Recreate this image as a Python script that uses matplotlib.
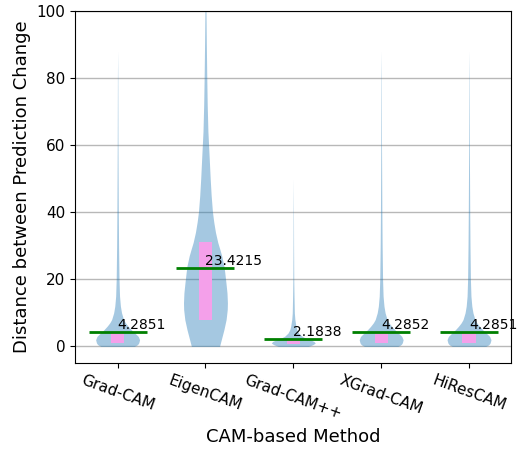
import matplotlib
matplotlib.use('Agg')
import matplotlib.pyplot as plt
import numpy as np

methods = ['Grad-CAM', 'EigenCAM', 'Grad-CAM++', 'XGrad-CAM', 'HiResCAM']
means = [4.2851, 23.4215, 2.1838, 4.2852, 4.2851]
quartile1 = [1.0, 8.0, 0.8, 1.1, 1.1]
quartile3 = [4.1, 31.0, 2.1, 4.1, 4.1]

# violin outlines: value levels and half widths
gradcam_y = [0, 0.5, 1, 2, 3, 4, 5, 6, 7, 8, 10, 12, 15, 20, 30, 40, 60, 80, 88]
gradcam_w = [0.19, 0.225, 0.24, 0.25, 0.235, 0.195, 0.155, 0.12, 0.09, 0.068,
             0.045, 0.032, 0.022, 0.016, 0.011, 0.008, 0.004, 0.002, 0.0]
eigencam_y = [0, 2, 5, 8, 11, 13, 16, 19, 22, 24, 27, 29, 31, 34, 37, 40, 45,
              50, 56, 64, 72, 80, 90, 100, 105]
eigencam_w = [0.16, 0.18, 0.21, 0.235, 0.248, 0.25, 0.245, 0.233, 0.22, 0.21,
              0.185, 0.163, 0.14, 0.114, 0.095, 0.08, 0.065, 0.054, 0.043,
              0.028, 0.02, 0.015, 0.01, 0.006, 0.003]
gradcampp_y = [0, 0.5, 1, 1.5, 2, 2.5, 3, 4, 5, 6, 8, 10, 15, 20, 30, 40, 50]
gradcampp_w = [0.17, 0.22, 0.25, 0.235, 0.19, 0.14, 0.1, 0.06, 0.04, 0.03,
               0.018, 0.012, 0.008, 0.005, 0.003, 0.002, 0.0]
xgradcam_y = [0, 0.5, 1, 2, 3, 4, 5, 6, 7, 8, 10, 12, 15, 20, 30, 40, 60, 80, 88]
xgradcam_w = [0.19, 0.225, 0.24, 0.25, 0.235, 0.195, 0.155, 0.12, 0.09, 0.068,
              0.045, 0.032, 0.022, 0.016, 0.011, 0.008, 0.004, 0.002, 0.0]
hirescam_y = [0, 0.5, 1, 2, 3, 4, 5, 6, 7, 8, 10, 12, 15, 20, 30, 40, 60, 80, 88]
hirescam_w = [0.19, 0.225, 0.24, 0.25, 0.235, 0.195, 0.155, 0.12, 0.09, 0.068,
              0.045, 0.032, 0.022, 0.016, 0.011, 0.008, 0.004, 0.002, 0.0]

profiles = [(gradcam_y, gradcam_w), (eigencam_y, eigencam_w),
            (gradcampp_y, gradcampp_w), (xgradcam_y, xgradcam_w),
            (hirescam_y, hirescam_w)]

fig = plt.figure(figsize=(5.19, 4.49), dpi=100)
ax = fig.add_axes([0.1445, 0.191, 0.8401, 0.785])

positions = np.arange(1, len(methods) + 1)
for pos, (yy, ww) in zip(positions, profiles):
    # smooth the outline a bit
    yf = np.linspace(yy[0], yy[-1], 400)
    wf = np.interp(yf, yy, ww)
    ax.fill_betweenx(yf, pos - wf, pos + wf, color='C0', alpha=0.4, lw=0, zorder=2)

ax.bar(positions, np.array(quartile3) - np.array(quartile1), bottom=quartile1,
       width=0.15, color='#f4a0ea', zorder=3)
ax.hlines(means, positions - 0.33, positions + 0.33, colors='green', lw=2, zorder=4)
for pos, m in zip(positions, means):
    ax.text(pos, m, '%.4f' % m, fontsize=10, ha='left', va='bottom', zorder=5)

ax.yaxis.grid(True, color='#b8b8b8', lw=1)
ax.set_axisbelow(True)
ax.set_xlim(0.515, 5.478)
ax.set_ylim(-5, 100)
ax.set_xticks(positions)
ax.set_xticklabels(methods, rotation=-20, ha='center', fontsize=11)
ax.tick_params(axis='y', labelsize=11)
ax.set_xlabel('CAM-based Method', fontsize=13)
ax.set_ylabel('Distance between Prediction Change', fontsize=13)

fig.savefig('out.png', dpi=100)
